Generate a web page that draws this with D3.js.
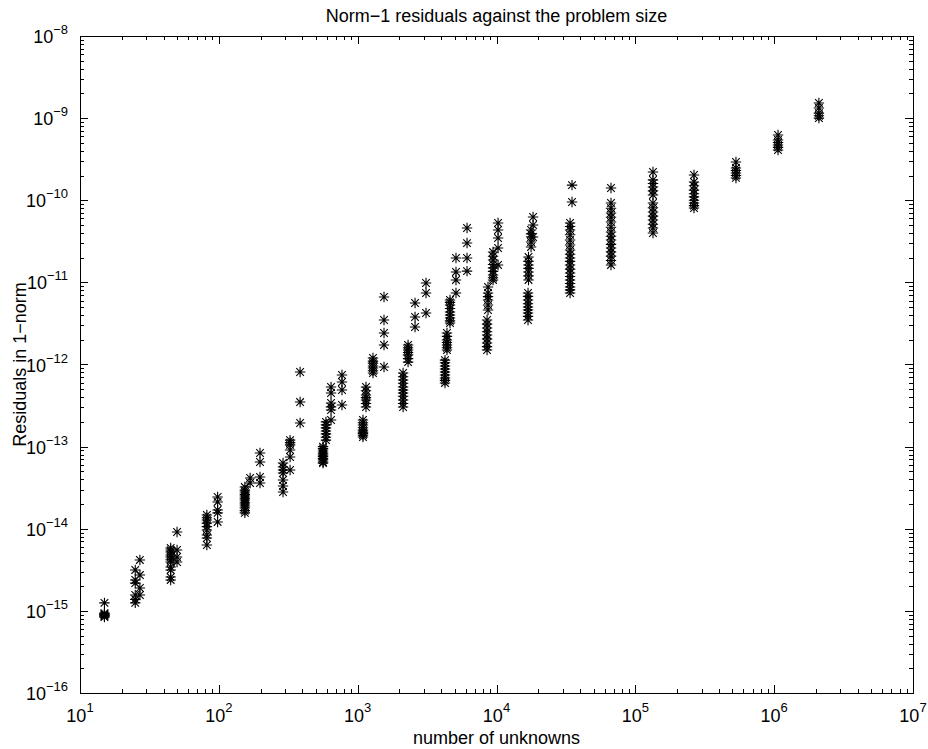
<!DOCTYPE html>
<html>
<head>
<meta charset="utf-8">
<script src="https://cdn.jsdelivr.net/npm/d3@7"></script>
<style>
  html, body { margin: 0; padding: 0; background: #fff; }
  svg { display: block; }
  text { font-family: "Liberation Sans", Arial, Helvetica, sans-serif; fill: #000; }
</style>
</head>
<body>
<svg id="chart" width="928" height="749"></svg>
<script>
// ---------- data ----------
const title = "Norm\u22121 residuals against the problem size";
const xLabel = "number of unknowns";
const yLabel = "Residuals in 1\u2212norm";

const xTickExponents = [1, 2, 3, 4, 5, 6, 7];
const yTickExponents = [-16, -15, -14, -13, -12, -11, -10, -9, -8];

// problem sizes (number of unknowns) of each column of points
const sizes = [15, 25, 27, 45, 50, 82, 98, 154, 168, 198, 290, 326, 385, 563, 591, 643, 771,
  1092, 1148, 1289, 1548, 2124, 2307, 2590, 3107, 4256, 4398, 4625, 5107, 6134,
  8550, 8690, 9444, 10260, 16870, 17000, 17740, 18340, 33880, 35000, 66800, 134000,
  264600, 530700, 1066000, 2100000];

// residuals (1-norm) measured for each problem size
const residuals = [
  [1.25e-15, 0.94e-15, 0.92e-15, 0.90e-15, 0.88e-15, 0.86e-15, 0.84e-15],
  [3.15e-15, 2.38e-15, 2.18e-15, 1.56e-15, 1.38e-15, 1.25e-15],
  [4.17e-15, 2.73e-15, 1.90e-15, 1.56e-15],
  [5.83e-15, 5.50e-15, 5.21e-15, 4.80e-15, 4.53e-15, 4.20e-15, 3.94e-15, 3.42e-15, 3.15e-15, 2.58e-15, 2.38e-15],
  [9.13e-15, 5.51e-15, 4.53e-15, 3.94e-15],
  [1.47e-14, 1.36e-14, 1.28e-14, 1.17e-14, 1.06e-14, 9.66e-15, 8.39e-15, 7.71e-15, 6.34e-15],
  [2.44e-14, 2.12e-14, 1.69e-14, 1.56e-14, 1.21e-14],
  [3.22e-14, 2.95e-14, 2.80e-14, 2.62e-14, 2.50e-14, 2.36e-14, 2.24e-14, 2.10e-14, 2.00e-14, 1.89e-14, 1.79e-14, 1.66e-14, 1.56e-14],
  [4.15e-14, 3.61e-14],
  [8.36e-14, 6.50e-14, 4.27e-14, 3.61e-14],
  [6.32e-14, 5.65e-14, 5.20e-14, 4.77e-14, 3.93e-14, 3.32e-14, 2.80e-14],
  [1.20e-13, 1.12e-13, 1.05e-13, 9.10e-14, 7.48e-14, 5.19e-14],
  [8.11e-13, 3.49e-13, 1.94e-13],
  [1.00e-13, 9.50e-14, 9.10e-14, 8.60e-14, 8.20e-14, 7.90e-14, 7.60e-14, 7.20e-14, 6.90e-14, 6.50e-14, 6.30e-14],
  [2.00e-13, 1.84e-13, 1.69e-13, 1.55e-13, 1.43e-13, 1.30e-13, 1.20e-13],
  [5.32e-13, 4.50e-13, 3.40e-13, 3.05e-13, 2.79e-13, 2.11e-13],
  [7.45e-13, 6.12e-13, 4.89e-13, 3.21e-13],
  [2.11e-13, 1.95e-13, 1.83e-13, 1.70e-13, 1.59e-13, 1.50e-13, 1.45e-13, 1.38e-13, 1.31e-13],
  [5.32e-13, 4.80e-13, 4.25e-13, 3.95e-13, 3.70e-13, 3.35e-13, 3.04e-13],
  [1.20e-12, 1.10e-12, 1.04e-12, 9.60e-13, 9.06e-13, 8.40e-13, 7.88e-13],
  [6.64e-12, 3.48e-12, 2.42e-12, 1.73e-12, 9.33e-13],
  [7.88e-13, 7.10e-13, 6.47e-13, 5.90e-13, 5.32e-13, 4.90e-13, 4.50e-13, 4.10e-13, 3.70e-13, 3.35e-13, 3.04e-13],
  [1.73e-12, 1.60e-12, 1.50e-12, 1.40e-12, 1.31e-12, 1.18e-12, 1.07e-12],
  [5.61e-12, 3.79e-12, 2.86e-12],
  [9.82e-12, 7.43e-12, 4.24e-12],
  [1.13e-12, 1.05e-12, 9.59e-13, 8.80e-13, 8.11e-13, 7.45e-13, 6.85e-13, 6.40e-13, 5.96e-13],
  [2.42e-12, 2.20e-12, 1.99e-12, 1.85e-12, 1.73e-12, 1.60e-12, 1.50e-12],
  [6.10e-12, 5.70e-12, 5.30e-12, 4.80e-12, 4.36e-12, 4.00e-12, 3.68e-12, 3.40e-12, 3.20e-12],
  [1.98e-11, 1.34e-11, 1.07e-11, 7.43e-12],
  [4.59e-11, 3.01e-11, 1.98e-11, 1.37e-11],
  [3.48e-12, 3.10e-12, 2.78e-12, 2.50e-12, 2.29e-12, 2.05e-12, 1.83e-12, 1.65e-12, 1.50e-12],
  [8.79e-12, 7.43e-12, 6.70e-12, 6.10e-12, 5.30e-12, 4.61e-12],
  [2.34e-11, 2.08e-11, 1.87e-11, 1.65e-11, 1.50e-11, 1.36e-11, 1.23e-11, 1.14e-11, 1.07e-11],
  [5.28e-11, 4.34e-11, 3.47e-11, 2.62e-11, 1.63e-11],
  [7.43e-12, 6.75e-12, 6.10e-12, 5.50e-12, 5.01e-12, 4.60e-12, 4.24e-12, 3.85e-12, 3.48e-12],
  [2.04e-11, 1.80e-11, 1.63e-11, 1.48e-11, 1.34e-11, 1.20e-11, 1.07e-11],
  [4.34e-11, 3.90e-11, 3.57e-11, 3.10e-11, 2.70e-11],
  [6.25e-11, 5.00e-11, 3.57e-11],
  [5.28e-11, 4.80e-11, 4.34e-11, 3.80e-11, 3.28e-11, 2.85e-11, 2.48e-11, 2.20e-11, 1.98e-11, 1.80e-11, 1.63e-11, 1.45e-11, 1.30e-11, 1.18e-11, 1.07e-11, 9.70e-12, 8.79e-12, 8.10e-12, 7.43e-12],
  [1.53e-10, 9.53e-11],
  [1.41e-10, 9.26e-11, 8.00e-11, 7.00e-11, 6.20e-11, 5.43e-11, 4.70e-11, 4.10e-11, 3.65e-11, 3.28e-11, 2.90e-11, 2.62e-11, 2.35e-11, 2.09e-11, 1.85e-11, 1.63e-11],
  [2.21e-10, 1.77e-10, 1.60e-10, 1.45e-10, 1.30e-10, 1.16e-10, 9.26e-11, 8.10e-11, 7.19e-11, 6.40e-11, 5.74e-11, 5.10e-11, 4.59e-11, 3.99e-11],
  [2.03e-10, 1.67e-10, 1.50e-10, 1.33e-10, 1.20e-10, 1.10e-10, 1.00e-10, 9.26e-11, 8.60e-11, 8.05e-11],
  [2.92e-10, 2.47e-10, 2.30e-10, 2.15e-10, 2.00e-10, 1.87e-10],
  [6.23e-10, 5.42e-10, 5.05e-10, 4.71e-10, 4.40e-10, 4.09e-10],
  [1.53e-9, 1.33e-9, 1.15e-9, 1.07e-9, 1.00e-9]
];

// ---------- layout ----------
const margin = { left: 80, right: 15, top: 36, bottom: 56 };
const W = 928, H = 749;
const svg = d3.select("#chart");

const x = d3.scaleLog()
  .domain([Math.pow(10, xTickExponents[0]), Math.pow(10, xTickExponents[xTickExponents.length - 1])])
  .range([margin.left, W - margin.right]);
const y = d3.scaleLog()
  .domain([Math.pow(10, yTickExponents[0]), Math.pow(10, yTickExponents[yTickExponents.length - 1])])
  .range([H - margin.bottom, margin.top]);

const [x0, x1] = x.range();
const [y0, y1] = y.range(); // y0 bottom, y1 top

const majorLen = 8, minorLen = 4;

// ---------- ticks ----------
const xTicks = x.ticks();
const yTicks = y.ticks();
const isMajor = v => Math.abs(Math.log10(v) - Math.round(Math.log10(v))) < 1e-9;

const tickG = svg.append("g").attr("stroke", "#000").attr("stroke-width", 1);
xTicks.forEach(v => {
  const px = Math.round(x(v)) + 0.5;
  const L = isMajor(v) ? majorLen : minorLen;
  tickG.append("line").attr("x1", px).attr("x2", px).attr("y1", y0).attr("y2", y0 - L);
  tickG.append("line").attr("x1", px).attr("x2", px).attr("y1", y1).attr("y2", y1 + L);
});
yTicks.forEach(v => {
  const py = Math.round(y(v)) + 0.5;
  const L = isMajor(v) ? majorLen : minorLen;
  tickG.append("line").attr("x1", x0).attr("x2", x0 + L).attr("y1", py).attr("y2", py);
  tickG.append("line").attr("x1", x1).attr("x2", x1 - L).attr("y1", py).attr("y2", py);
});

// box
svg.append("rect")
  .attr("x", Math.round(x0) + 0.5).attr("y", Math.round(y1) + 0.5)
  .attr("width", Math.round(x1 - x0)).attr("height", Math.round(y0 - y1))
  .attr("fill", "none").attr("stroke", "#000").attr("stroke-width", 1);

// tick labels
xTickExponents.forEach(e => {
  const t = svg.append("text")
    .attr("x", x(Math.pow(10, e)))
    .attr("y", y0 + 29)
    .attr("text-anchor", "middle")
    .attr("font-size", 18);
  t.append("tspan").text("10");
  t.append("tspan").attr("dy", -10).attr("font-size", 13).text(String(e).replace("-", "\u2212"));
});
yTickExponents.forEach(e => {
  const t = svg.append("text")
    .attr("x", x0 - 12)
    .attr("y", y(Math.pow(10, e)) + 7)
    .attr("text-anchor", "end")
    .attr("font-size", 18);
  t.append("tspan").text("10");
  t.append("tspan").attr("dy", -9).attr("font-size", 13).text(String(e).replace("-", "\u2212"));
});

// title and axis labels
svg.append("text").attr("x", (x0 + x1) / 2).attr("y", 22)
  .attr("text-anchor", "middle").attr("font-size", 18).text(title);
svg.append("text").attr("x", (x0 + x1) / 2).attr("y", 744)
  .attr("text-anchor", "middle").attr("font-size", 18).text(xLabel);
svg.append("text")
  .attr("transform", `translate(26,${(y0 + y1) / 2}) rotate(-90)`)
  .attr("text-anchor", "middle").attr("font-size", 18).text(yLabel);

// ---------- points (asterisk markers) ----------
const points = [];
sizes.forEach((s, i) => residuals[i].forEach(r => points.push([s, r])));

const r = 5.2, d = 3.8;
const star = `M${-r},0L${r},0M0,${-r}L0,${r}M${-d},${-d}L${d},${d}M${-d},${d}L${d},${-d}`;
svg.append("g")
  .selectAll("path")
  .data(points)
  .join("path")
  .attr("transform", p => `translate(${x(p[0])},${y(p[1])})`)
  .attr("d", star)
  .attr("fill", "none")
  .attr("stroke", "#000")
  .attr("stroke-width", 1.1);
</script>
</body>
</html>
